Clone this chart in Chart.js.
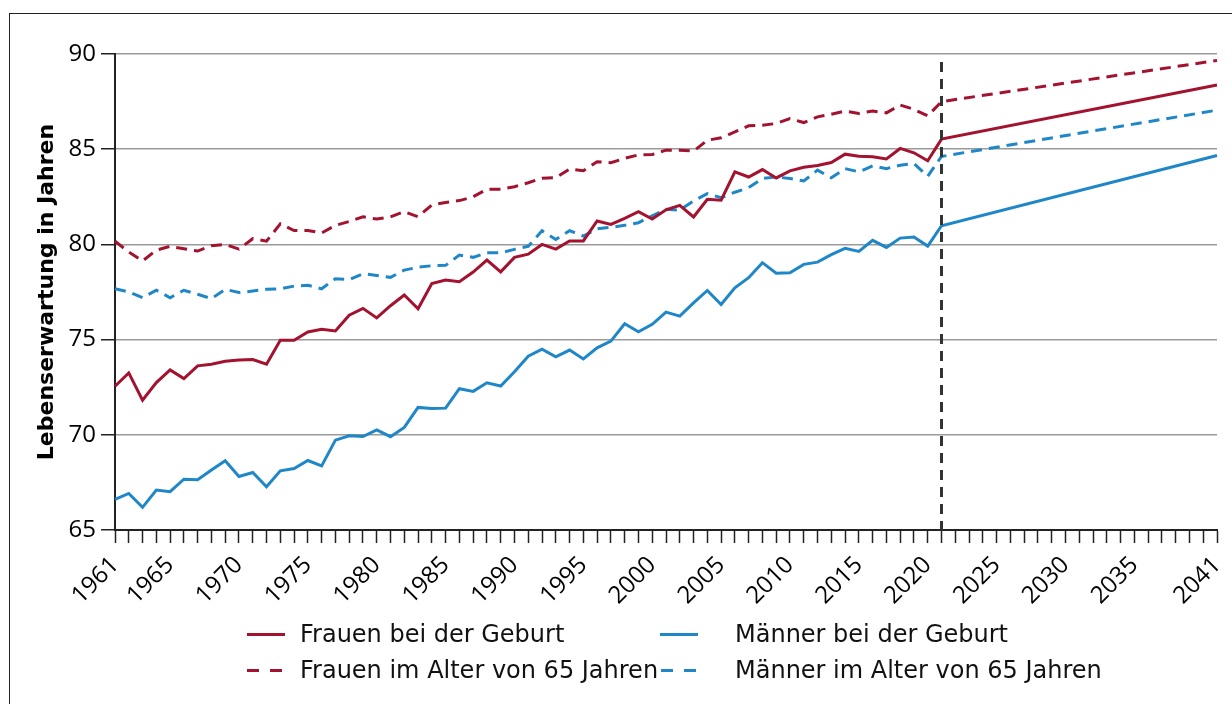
<!DOCTYPE html>
<html><head><meta charset="utf-8">
<script src="https://cdn.jsdelivr.net/npm/chart.js@4/dist/chart.umd.min.js"></script>
<style>
html,body{margin:0;padding:0;background:#fff;}
#wrap{position:relative;width:1232px;height:704px;overflow:hidden;background:#fff;}
#frame{position:absolute;left:9px;top:13px;width:1300px;height:800px;border:1.5px solid #222;}
#c{position:absolute;left:0;top:0;}
.leg{position:absolute;font-family:"DejaVu Sans";font-size:24px;color:#111;white-space:nowrap;line-height:30px;height:30px;}
.sym{position:absolute;height:3px;}
</style></head><body>
<div id="wrap"><div id="frame"></div><canvas id="c" width="1232" height="620"></canvas><div id="legend"></div></div>
<script>
// ---- categories ----
const years = [];
for (let y = 1961; y <= 2041; y++) years.push(String(y));
const tickLabels = ['1961','1965','1970','1975','1980','1985','1990','1995','2000','2005','2010','2015','2020','2025','2030','2035','2041'];
const projectionStart = '2021';

// ---- series: observed values 1961-2020 ----
const frauenGeburt = [72.55,73.25,71.82,72.74,73.41,72.95,73.62,73.71,73.86,73.93,
  73.95,73.71,74.97,74.97,75.40,75.54,75.45,76.28,76.64,76.14,
  76.78,77.34,76.62,77.95,78.13,78.04,78.55,79.18,78.56,79.32,
  79.49,80.00,79.75,80.18,80.18,81.23,81.05,81.37,81.72,81.33,
  81.82,82.05,81.44,82.37,82.32,83.81,83.54,83.93,83.49,83.86,
  84.05,84.14,84.30,84.74,84.63,84.60,84.49,85.04,84.81,84.39];
const maennerGeburt = [66.61,66.92,66.19,67.10,67.01,67.67,67.64,68.15,68.64,67.81,
  68.02,67.27,68.11,68.23,68.65,68.37,69.72,69.95,69.91,70.26,
  69.90,70.39,71.44,71.38,71.40,72.42,72.28,72.73,72.56,73.31,
  74.13,74.50,74.10,74.45,73.98,74.57,74.92,75.83,75.41,75.80,
  76.44,76.23,76.93,77.58,76.84,77.72,78.25,79.04,78.49,78.51,
  78.95,79.07,79.46,79.79,79.63,80.21,79.84,80.33,80.39,79.91];
const frauen65 = [80.17,79.60,79.13,79.70,79.90,79.77,79.65,79.93,80.00,79.75,
  80.30,80.17,81.08,80.73,80.73,80.60,81.00,81.20,81.45,81.33,
  81.45,81.72,81.45,82.07,82.20,82.30,82.50,82.90,82.89,83.03,
  83.24,83.48,83.50,83.96,83.87,84.34,84.29,84.52,84.70,84.72,
  84.95,84.95,84.90,85.47,85.60,85.91,86.23,86.26,86.35,86.61,
  86.40,86.70,86.84,87.00,86.88,87.00,86.91,87.32,87.09,86.75];
const maenner65 = [77.67,77.50,77.20,77.59,77.20,77.59,77.38,77.15,77.64,77.47,
  77.55,77.64,77.67,77.81,77.85,77.67,78.20,78.15,78.46,78.37,
  78.27,78.65,78.80,78.88,78.90,79.44,79.32,79.56,79.56,79.74,
  79.90,80.72,80.26,80.72,80.44,80.82,80.90,81.00,81.14,81.50,
  81.85,81.80,82.28,82.67,82.45,82.74,82.98,83.46,83.54,83.46,
  83.33,83.90,83.50,83.98,83.81,84.12,83.98,84.16,84.25,83.58];
// ---- projection: values at 2021 and 2041 ----
const frauenGeburtProj = [85.53, 88.37];
const maennerGeburtProj = [80.98, 84.67];
const frauen65Proj = [87.50, 89.66];
const maenner65Proj = [84.62, 87.05];

const seriesLabels = ['Frauen bei der Geburt','Männer bei der Geburt','Frauen im Alter von 65 Jahren','Männer im Alter von 65 Jahren'];

const RED = '#A3122F', BLUE = '#1F87C7';
const DASH = [11, 7];

function build(hist, proj) {
  const out = hist.slice();
  out.push(proj[0]);
  while (out.length < years.length - 1) out.push(null);
  out.push(proj[1]);
  return out;
}

const datasets = [
  {label: seriesLabels[0], data: build(frauenGeburt, frauenGeburtProj), borderColor: RED, borderDash: []},
  {label: seriesLabels[1], data: build(maennerGeburt, maennerGeburtProj), borderColor: BLUE, borderDash: []},
  {label: seriesLabels[2], data: build(frauen65, frauen65Proj), borderColor: RED, borderDash: DASH},
  {label: seriesLabels[3], data: build(maenner65, maenner65Proj), borderColor: BLUE, borderDash: DASH}
].map(d => Object.assign(d, {borderWidth: 3, pointRadius: 0, tension: 0, spanGaps: true, fill: false}));

const vLine = {
  id: 'vLine',
  afterDatasetsDraw(chart) {
    const {ctx, chartArea, scales} = chart;
    const x = scales.x.getPixelForValue(years.indexOf(projectionStart));
    ctx.save();
    ctx.strokeStyle = '#333';
    ctx.lineWidth = 3;
    ctx.setLineDash([10, 7]);
    ctx.beginPath();
    ctx.moveTo(x, chartArea.top + 8);
    ctx.lineTo(x, chartArea.bottom);
    ctx.stroke();
    ctx.restore();
  }
};

const FONT = '"Open Sans", "DejaVu Sans", sans-serif';

new Chart(document.getElementById('c'), {
  type: 'line',
  data: {labels: years, datasets},
  plugins: [vLine],
  options: {
    responsive: false,
    animation: false,
    layout: {padding: {left: 0, top: 54, right: 15, bottom: 0}},
    plugins: {legend: {display: false}, tooltip: {enabled: false}},
    scales: {
      x: {
        type: 'category',
        afterFit(scale) { scale.height = 90; scale.paddingLeft = 0; scale.paddingRight = 0; },
        grid: {drawOnChartArea: false, drawTicks: true, tickLength: 13, tickColor: '#222', tickWidth: 1.5},
        border: {color: '#222', width: 2},
        ticks: {
          autoSkip: false, maxRotation: 45, minRotation: 45, padding: 8,
          color: '#000', font: {family: FONT, size: 24},
          callback(value) {
            const l = this.getLabelForValue(value);
            return tickLabels.includes(l) ? l : '';
          }
        }
      },
      y: {
        min: 65, max: 90,
        afterFit(scale) { scale.width = 115; },
        grid: {color: '#9a9a9a', lineWidth: 1.5, tickLength: 14, tickColor: '#222', tickWidth: 1.5},
        border: {color: '#222', width: 2},
        ticks: {stepSize: 5, padding: 5, color: '#000', font: {family: FONT, size: 24}},
        title: {display: true, text: 'Lebenserwartung in Jahren', color: '#000',
          font: {family: '"DejaVu Sans", sans-serif', size: 22, weight: 'bold'}, padding: {top: 34, bottom: 0}}
      }
    }
  }
});

// ---- legend ----
const legendPos = [
  {sx: 247, tx: 300, y: 634}, {sx: 660, tx: 735, y: 634},
  {sx: 247, tx: 300, y: 670}, {sx: 661, tx: 735, y: 670}
];
const leg = document.getElementById('legend');
datasets.forEach((d, i) => {
  const p = legendPos[i];
  if (d.borderDash.length) {
    [0, 23].forEach(off => {
      const s = document.createElement('div');
      s.className = 'sym';
      s.style.cssText = `left:${p.sx + off}px;top:${p.y - 1}px;width:12px;background:${d.borderColor}`;
      leg.appendChild(s);
    });
  } else {
    const s = document.createElement('div');
    s.className = 'sym';
    s.style.cssText = `left:${p.sx}px;top:${p.y - 1}px;width:38px;background:${d.borderColor}`;
    leg.appendChild(s);
  }
  const t = document.createElement('div');
  t.className = 'leg';
  t.style.left = p.tx + 'px';
  t.style.top = (p.y - 15) + 'px';
  t.textContent = d.label;
  leg.appendChild(t);
});
</script>
</body></html>
